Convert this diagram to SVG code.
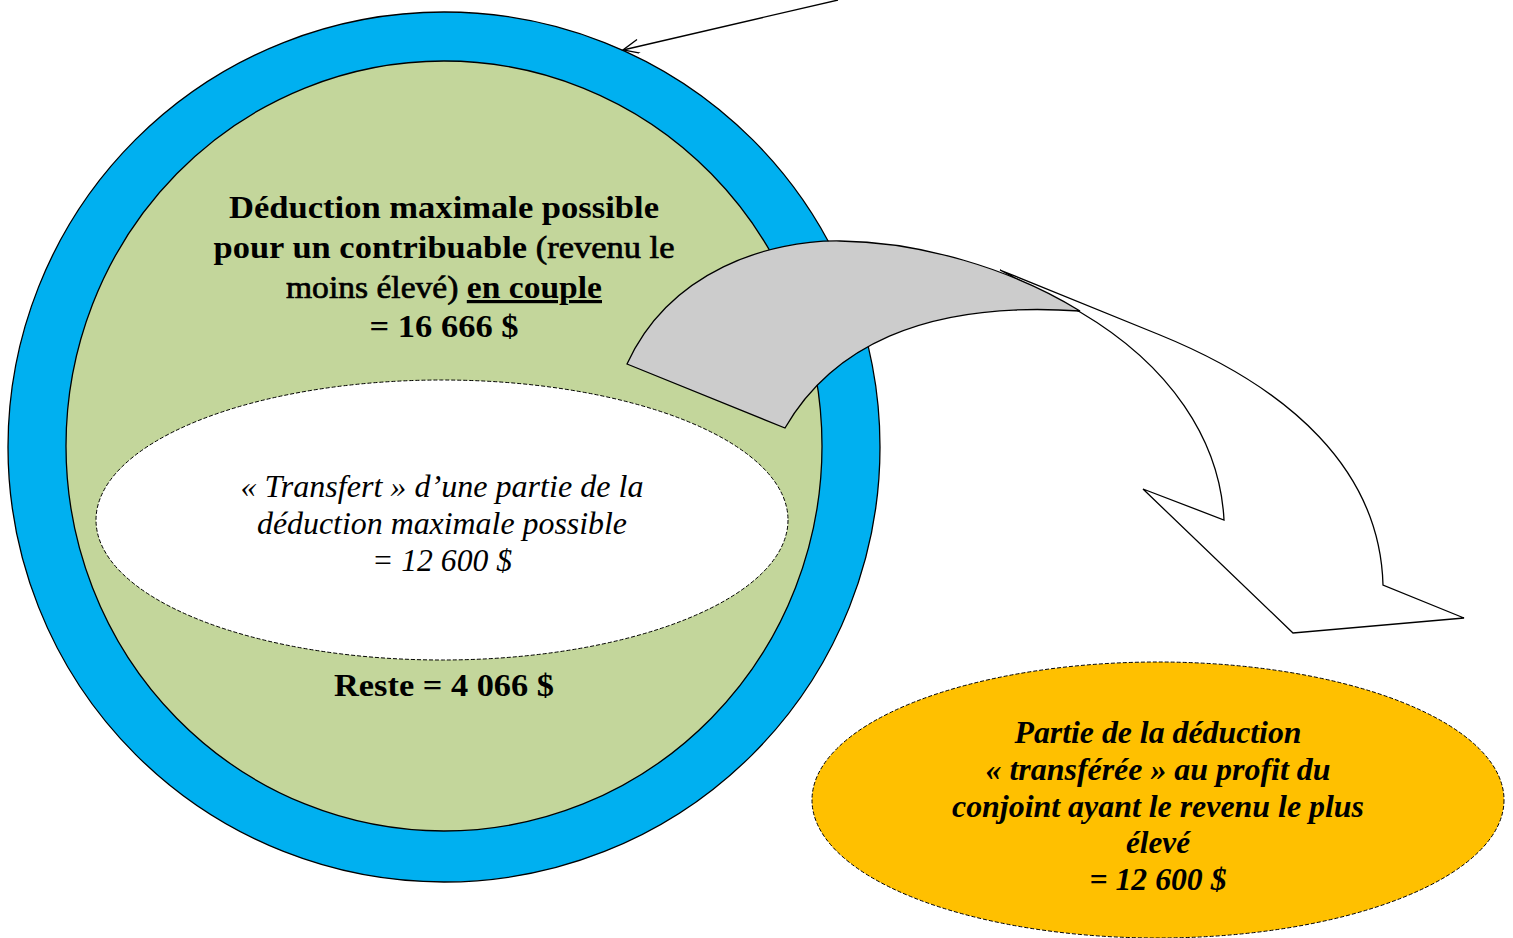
<svg xmlns="http://www.w3.org/2000/svg" width="1513" height="938" viewBox="0 0 1513 938">
<style>
.ln{stroke:#000;stroke-width:1.3;}
.dash{stroke:#000;stroke-width:1;stroke-dasharray:4 2;}
.t{fill:#000;text-anchor:middle;}
.semi{font-weight:normal;stroke:#000;stroke-width:0.7;}
</style>
<defs>
<marker id="open" markerWidth="20" markerHeight="20" refX="17" refY="7" orient="auto" markerUnits="userSpaceOnUse">
<path d="M1,0 L17,7 L1,14" fill="none" stroke="#000" stroke-width="1.3"/>
</marker>
</defs>
<rect width="1513" height="938" fill="#fff"/>
<g id="outer-circle">
<ellipse cx="444" cy="447" rx="436" ry="435" fill="#00B0F0" class="ln"/>
</g>
<g id="inner-circle">
<ellipse cx="444" cy="446" rx="378" ry="385" fill="#C3D69B" class="ln"/>
<g class="t" font-family="Liberation Serif, serif" font-weight="bold" font-size="32">
<text x="444" y="218" textLength="430" lengthAdjust="spacingAndGlyphs">Déduction maximale possible</text>
<text x="444" y="258" textLength="461" lengthAdjust="spacingAndGlyphs">pour un contribuable <tspan class="semi">(revenu le</tspan></text>
<text x="444" y="298" textLength="316" lengthAdjust="spacingAndGlyphs"><tspan class="semi">moins élevé)</tspan> <tspan text-decoration="underline">en couple</tspan></text>
<text x="444" y="337" textLength="149" lengthAdjust="spacingAndGlyphs">= 16 666 $</text>
</g>
</g>
<g id="transfer-ellipse">
<ellipse cx="442" cy="520" rx="346" ry="140" fill="#fff" class="dash"/>
<g class="t" font-family="Liberation Serif, serif" font-style="italic" font-size="31">
<text x="442" y="497" textLength="403" lengthAdjust="spacingAndGlyphs">« Transfert » d’une partie de la</text>
<text x="442" y="534" textLength="370" lengthAdjust="spacingAndGlyphs">déduction maximale possible</text>
<text x="442" y="571" textLength="140" lengthAdjust="spacingAndGlyphs">= 12 600 $</text>
</g>
</g>
<g id="reste">
<text class="t" x="444" y="696" font-family="Liberation Serif, serif" font-weight="bold" font-size="32" textLength="220" lengthAdjust="spacingAndGlyphs">Reste = 4 066 $</text>
</g>
<g id="connectors">
<line x1="838" y1="0" x2="623" y2="50" class="ln" marker-end="url(#open)"/>
<path d="M1000,270 L1160,335 C1290,388 1380,470 1383,585 L1464,618 L1293,633 L1143,489 L1224,520 C1220,440 1170,365 1080,312 Z" fill="#fff" class="ln"/>
<path d="M627,364 C670,270 770,240 840,241 C920,242 1010,268 1080,311 C920,300 830,350 785,428 Z" fill="#CCCCCC" class="ln"/>
</g>
<g id="result-ellipse">
<ellipse cx="1158" cy="800" rx="346" ry="138" fill="#FFC000" class="dash"/>
<g class="t" font-family="Liberation Serif, serif" font-style="italic" font-weight="bold" font-size="31">
<text x="1158" y="743" textLength="287" lengthAdjust="spacingAndGlyphs">Partie de la déduction</text>
<text x="1158" y="780" textLength="345" lengthAdjust="spacingAndGlyphs">« transférée » au profit du</text>
<text x="1158" y="817" textLength="412" lengthAdjust="spacingAndGlyphs">conjoint ayant le revenu le plus</text>
<text x="1158" y="853" textLength="64" lengthAdjust="spacingAndGlyphs">élevé</text>
<text x="1158" y="890" textLength="137" lengthAdjust="spacingAndGlyphs">= 12 600 $</text>
</g>
</g>
</svg>
